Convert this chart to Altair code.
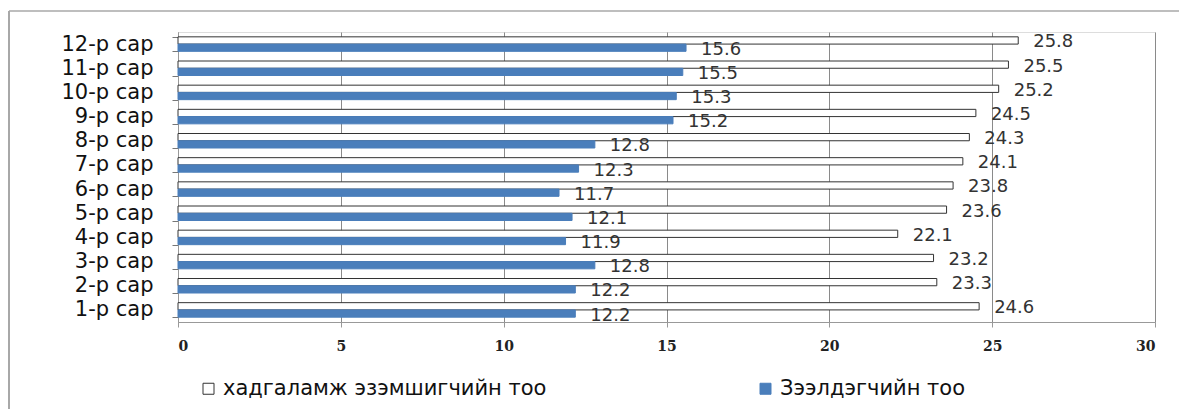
import altair as alt
import pandas as pd

months = ["1-р сар", "2-р сар", "3-р сар", "4-р сар", "5-р сар", "6-р сар",
          "7-р сар", "8-р сар", "9-р сар", "10-р сар", "11-р сар", "12-р сар"]
series_names = ["хадгаламж эзэмшигчийн тоо", "Зээлдэгчийн тоо"]
depositors = [24.6, 23.3, 23.2, 22.1, 23.6, 23.8, 24.1, 24.3, 24.5, 25.2, 25.5, 25.8]
borrowers = [12.2, 12.2, 12.8, 11.9, 12.1, 11.7, 12.3, 12.8, 15.2, 15.3, 15.5, 15.6]
x_ticks = [0, 5, 10, 15, 20, 25, 30]

rows = []
for m, d, b in zip(months, depositors, borrowers):
    rows.append({"month": m, "series": series_names[0], "value": d})
    rows.append({"month": m, "series": series_names[1], "value": b})
df = pd.DataFrame(rows)

WHITE_FILL = "#ffffff"
BLUE = "#4a7ebb"

legend = alt.Legend(title=None, orient="none", legendX=20, legendY=346,
                    direction="horizontal", columnPadding=208, labelLimit=0,
                    labelFont="DejaVu Sans", labelFontSize=21,
                    labelColor="#111", symbolType="square",
                    symbolSize=121, symbolStrokeWidth=1, labelOffset=4)

y_enc = alt.Y("month:N", sort=list(reversed(months)), title=None,
              scale=alt.Scale(paddingInner=0.4, paddingOuter=0.2),
              axis=alt.Axis(labelFont="DejaVu Sans", labelFontSize=21, labelColor="#111",
                            labelPadding=19, tickSize=6, tickColor="#777", domainColor="#999",
                            tickBand="extent", grid=False))
yoff = alt.YOffset("series:N", sort=series_names, scale=alt.Scale(paddingInner=0, paddingOuter=0))
x_enc = alt.X("value:Q", title=None,
              scale=alt.Scale(domain=[0, 30], nice=False),
              axis=alt.Axis(values=x_ticks, labelFont="DejaVu Serif", labelFontWeight="bold",
                            labelFontSize=14, labelColor="#222", labelPadding=12,
                            tickSize=5, tickColor="#999", domainColor="#999",
                            grid=True, gridColor="#8a8a8a", gridWidth=1))

bars = alt.Chart(df).mark_bar(strokeWidth=1).encode(
    x=x_enc,
    y=y_enc,
    yOffset=yoff,
    fill=alt.Fill("series:N", sort=series_names,
                  scale=alt.Scale(domain=series_names, range=[WHITE_FILL, BLUE]),
                  legend=legend),
    stroke=alt.Stroke("series:N", sort=series_names,
                      scale=alt.Scale(domain=series_names, range=["#333333", BLUE]),
                      legend=legend),
)

labels = alt.Chart(df).mark_text(align="left", baseline="middle", dx=15, dy=2,
                                 font="DejaVu Sans", fontSize=18, color="#333").encode(
    x=alt.X("value:Q"),
    y=alt.Y("month:N", sort=list(reversed(months))),
    yOffset=yoff,
    text=alt.Text("value:Q", format=".1f"),
)

frame_df = pd.DataFrame({"k": [0]})
left_line = alt.Chart(frame_df).mark_rule(color="#a8a8a8", strokeWidth=2).encode(
    x=alt.value(-169), y=alt.value(-21), y2=alt.value(400))
top_line = alt.Chart(frame_df).mark_rule(color="#a8a8a8", strokeWidth=1.5).encode(
    x=alt.value(-169), x2=alt.value(1020), y=alt.value(-21))

chart = alt.layer(bars, labels, left_line, top_line).properties(
    width=977, height=290,
    autosize=alt.AutoSizeParams(type="none"),
    padding={"left": 170, "top": 24, "right": 24, "bottom": 87},
).configure_view(stroke=None).configure(background="white")

chart.save("out.html", embed_options={"renderer": "svg", "actions": False})
